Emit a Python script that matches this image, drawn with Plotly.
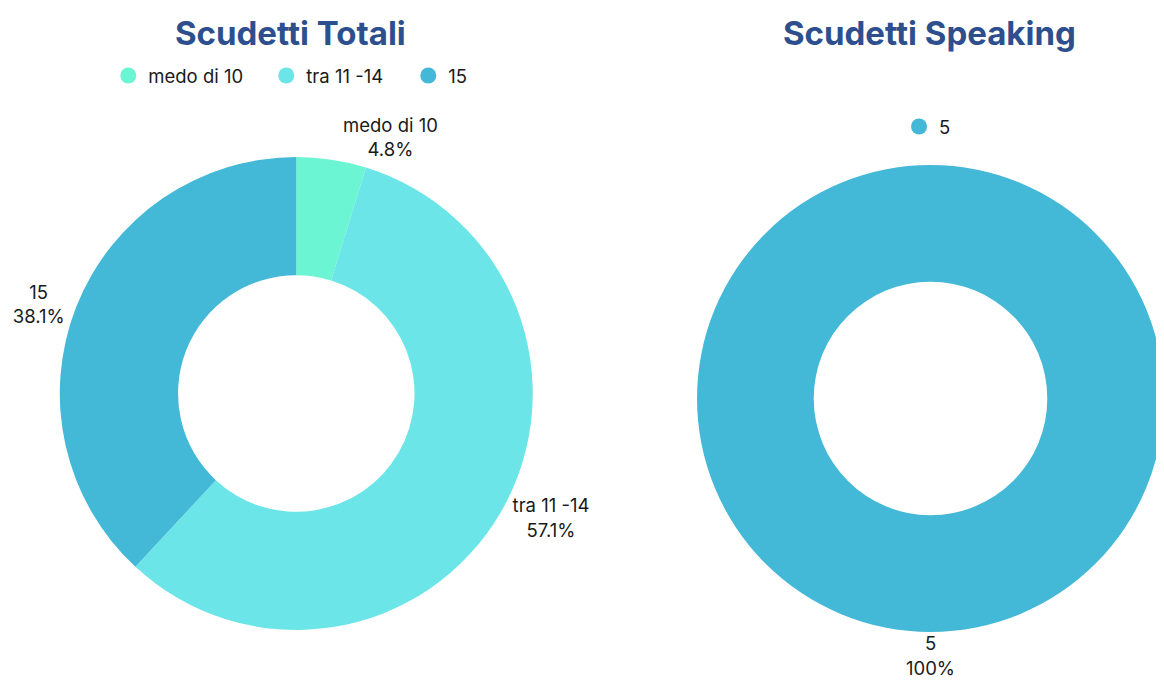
import plotly.graph_objects as go

# Data
totali_labels = ["medo di 10", "tra 11 -14", "15"]
totali_values = [1, 12, 8]
totali_colors = ["#6cf5d3", "#6ce5e8", "#43b8d7"]

speaking_labels = ["5"]
speaking_values = [1]
speaking_colors = ["#43b8d7"]

titles = ["Scudetti Totali", "Scudetti Speaking"]

# Legend entry widths (styling only)
totali_legend_widths = [113, 97, 20]
speaking_legend_widths = [12]

FONT = "Inter"
OFF = 8              # page body margin
W, H = 1156, 674
LABEL_SIZE = 18.5


def fx(px):
    return (px - OFF) / W


def fy(py):
    return 1 - (py - OFF) / H


fig = go.Figure()

fig.add_trace(go.Pie(
    labels=totali_labels, values=totali_values,
    marker=dict(colors=totali_colors, line=dict(width=0)),
    hole=0.5, sort=False, direction="clockwise", rotation=0,
    textposition="outside",
    texttemplate="%{label}<br>%{percent:.1%}",
    textfont=dict(family=FONT, size=LABEL_SIZE, color="#1a1a1a"),
    domain=dict(x=[fx(55), fx(530)], y=[fy(631), fy(156)]),
    showlegend=False, hoverinfo="label+percent",
))

# single-slice donut: its label is shown centred below the ring
sp_total = sum(speaking_values)
sp_label = "<br>".join(
    f"{lab}<br>{v / sp_total:.0%}" for lab, v in zip(speaking_labels, speaking_values)
)
fig.add_trace(go.Pie(
    labels=speaking_labels, values=speaking_values,
    marker=dict(colors=speaking_colors, line=dict(width=0)),
    hole=0.5, sort=False, direction="clockwise", rotation=0,
    textposition="none",
    title=dict(text=sp_label, position="bottom center",
               font=dict(family=FONT, size=LABEL_SIZE, color="#1a1a1a")),
    domain=dict(x=[fx(695), 1.0], y=[fy(681), fy(162)]),
    showlegend=False, hoverinfo="label+percent",
))

# Legend entries with circular symbols
for lab, col, lw in zip(totali_labels, totali_colors, totali_legend_widths):
    fig.add_trace(go.Scatter(
        x=[None], y=[None], mode="markers", name=lab,
        marker=dict(size=18, color=col, symbol="circle"),
        legend="legend", legendwidth=lw, showlegend=True, hoverinfo="skip",
    ))
for lab, col, lw in zip(speaking_labels, speaking_colors, speaking_legend_widths):
    fig.add_trace(go.Scatter(
        x=[None], y=[None], mode="markers", name=lab,
        marker=dict(size=18, color=col, symbol="circle"),
        legend="legend2", legendwidth=lw, showlegend=True, hoverinfo="skip",
    ))

title_font = dict(family=FONT, size=33, color="#2d4f8e", weight="bold")
legend_font = dict(family=FONT, size=LABEL_SIZE, color="#1a1a1a")
fig.update_layout(
    width=W, height=H,
    margin=dict(l=0, r=0, t=0, b=0),
    paper_bgcolor="white", plot_bgcolor="white",
    xaxis=dict(visible=False), yaxis=dict(visible=False),
    font=dict(family=FONT, size=LABEL_SIZE, color="#1a1a1a"),
    legend=dict(orientation="h", x=fx(287), xanchor="center",
                y=fy(76), yanchor="middle", font=legend_font,
                bgcolor="rgba(0,0,0,0)"),
    legend2=dict(orientation="h", x=fx(926.5), xanchor="center",
                 y=fy(127), yanchor="middle", font=legend_font,
                 bgcolor="rgba(0,0,0,0)"),
    annotations=[
        dict(text=titles[0], x=fx(287), y=fy(33), xref="paper", yref="paper",
             xanchor="center", yanchor="middle", showarrow=False, font=title_font),
        dict(text=titles[1], x=fx(928), y=fy(33), xref="paper", yref="paper",
             xanchor="center", yanchor="middle", showarrow=False, font=title_font),
    ],
)

fig.write_html("out.html")
